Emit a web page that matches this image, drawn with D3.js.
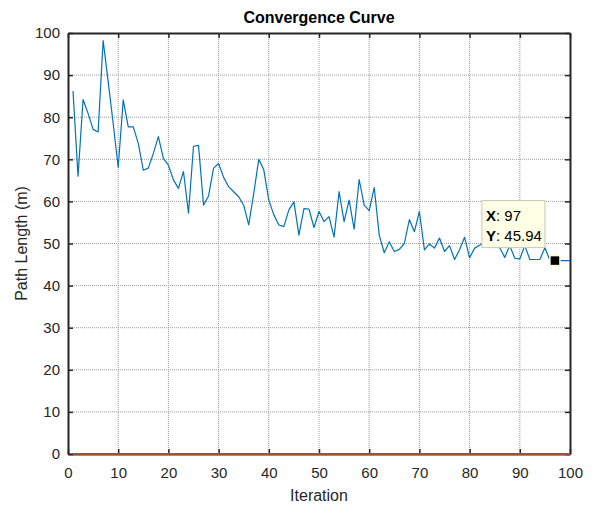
<!DOCTYPE html>
<html>
<head>
<meta charset="utf-8">
<script src="https://cdn.jsdelivr.net/npm/d3@7"></script>
<style>
  html, body { margin: 0; padding: 0; background: #fff; }
  svg { display: block; font-family: "Liberation Sans", Arial, sans-serif; }
</style>
</head>
<body>
<svg id="chart" width="594" height="506"></svg>
<script>
const iterations = d3.range(1, 101);
const pathLength = [
  86.2, 66.0, 84.2, 80.9, 77.1, 76.5, 98.2, 88.5, 78.5, 68.1,
  84.1, 77.7, 77.7, 73.8, 67.4, 67.9, 71.4, 75.4, 70.2, 68.6,
  65.1, 63.1, 67.1, 57.2, 73.1, 73.3, 59.1, 61.3, 67.9, 69.0,
  65.7, 63.5, 62.3, 61.1, 59.1, 54.4, 61.9, 70.0, 67.5, 60.3,
  56.8, 54.4, 54.0, 58.0, 59.9, 52.0, 58.3, 58.2, 53.8, 57.6,
  55.2, 56.4, 51.5, 62.3, 55.2, 60.3, 53.4, 65.2, 59.1, 57.8,
  63.3, 52.0, 47.8, 50.4, 48.1, 48.6, 50.0, 55.7, 52.8, 57.6,
  48.5, 49.9, 48.9, 51.3, 48.1, 49.5, 46.2, 48.5, 51.5, 46.6,
  48.9, 49.6, 50.2, 50.8, 51.0, 49.0, 46.7, 49.5, 46.5, 46.3,
  49.5, 46.2, 46.2, 46.2, 49.0, 46.0, 45.94, 45.94, 45.94, 45.94
];
const baseline = iterations.map(() => 0);
const xTicks = d3.range(0, 101, 10);
const yTicks = d3.range(0, 101, 10);
const tipIndex = 97;

const svg = d3.select("#chart");
const margin = { left: 68, right: 24, top: 33, bottom: 52 };
const W = 594, H = 506;
const x = d3.scaleLinear().domain([0, 100]).range([margin.left, W - margin.right]);
const y = d3.scaleLinear().domain([0, 100]).range([H - margin.bottom, margin.top]);
const axisColor = "#262626";

// grid
const grid = svg.append("g");
grid.selectAll(".gx").data(xTicks.slice(1, -1)).enter().append("line")
  .attr("x1", d => x(d)).attr("x2", d => x(d))
  .attr("y1", y(0)).attr("y2", y(100))
  .attr("stroke", "#9a9a9a").attr("stroke-width", 1).attr("stroke-dasharray", "1,1");
grid.selectAll(".gy").data(yTicks.slice(1, -1)).enter().append("line")
  .attr("y1", d => y(d)).attr("y2", d => y(d))
  .attr("x1", x(0)).attr("x2", x(100))
  .attr("stroke", "#9a9a9a").attr("stroke-width", 1).attr("stroke-dasharray", "1,1");

// axes
const fontSize = 15;
const xAxis = svg.append("g").attr("transform", `translate(0,${y(0)})`)
  .call(d3.axisBottom(x).tickValues(xTicks).tickSizeInner(-5).tickSizeOuter(0).tickPadding(13));
const yAxis = svg.append("g").attr("transform", `translate(${x(0)},0)`)
  .call(d3.axisLeft(y).tickValues(yTicks).tickSizeInner(-5).tickSizeOuter(0).tickPadding(8));
const xTop = svg.append("g").attr("transform", `translate(0,${y(100)})`)
  .call(d3.axisTop(x).tickValues(xTicks).tickSizeInner(-5).tickSizeOuter(0).tickFormat(""));
const yRight = svg.append("g").attr("transform", `translate(${x(100)},0)`)
  .call(d3.axisRight(y).tickValues(yTicks).tickSizeInner(-5).tickSizeOuter(0).tickFormat(""));
[xAxis, yAxis, xTop, yRight].forEach(g => {
  g.select(".domain").attr("stroke", axisColor).attr("stroke-width", 2);
  g.selectAll(".tick line").attr("stroke", axisColor).attr("stroke-width", 1.5);
  g.selectAll(".tick text").attr("fill", axisColor).attr("font-size", fontSize)
    .attr("font-family", "'Liberation Sans', Arial, sans-serif");
});

// series
const line = d3.line().x((d, i) => x(iterations[i])).y(d => y(d));
svg.append("path").datum(baseline).attr("d", line)
  .attr("fill", "none").attr("stroke", "#a3503a").attr("stroke-width", 2);
svg.append("path").datum(pathLength).attr("d", line)
  .attr("fill", "none").attr("stroke", "#0072BD").attr("stroke-width", 1.2)
  .attr("stroke-linejoin", "round");

// labels
svg.append("text").attr("x", (x(0) + x(100)) / 2).attr("y", 23)
  .attr("text-anchor", "middle").attr("font-size", 16).attr("font-weight", "bold")
  .attr("fill", "#000").text("Convergence Curve");
svg.append("text").attr("x", (x(0) + x(100)) / 2).attr("y", 501)
  .attr("text-anchor", "middle").attr("font-size", 16).attr("fill", axisColor).text("Iteration");
svg.append("text").attr("transform", `translate(27,${(y(0) + y(100)) / 2}) rotate(-90)`)
  .attr("text-anchor", "middle").attr("font-size", 16).attr("fill", axisColor).text("Path Length (m)");

// data tip
const tipX = iterations[tipIndex - 1], tipY = pathLength[tipIndex - 1];
svg.append("rect").attr("x", x(tipX) - 5).attr("y", y(tipY) - 5).attr("width", 10).attr("height", 10)
  .attr("fill", "#000").attr("stroke", "#fffbd0").attr("stroke-width", 1.5);
const box = svg.append("g").attr("transform", `translate(${x(tipX) - 73},${y(tipY) - 60})`);
box.append("rect").attr("width", 63).attr("height", 47)
  .attr("fill", "#ffffe6").attr("stroke", "#c8c8b4").attr("stroke-width", 1);
const t1 = box.append("text").attr("x", 4).attr("y", 20).attr("font-size", 15).attr("fill", "#000");
t1.append("tspan").attr("font-weight", "bold").text("X");
t1.append("tspan").text(": " + tipX);
const t2 = box.append("text").attr("x", 4).attr("y", 40).attr("font-size", 15).attr("fill", "#000");
t2.append("tspan").attr("font-weight", "bold").text("Y");
t2.append("tspan").text(": " + tipY.toFixed(2));
</script>
</body>
</html>
